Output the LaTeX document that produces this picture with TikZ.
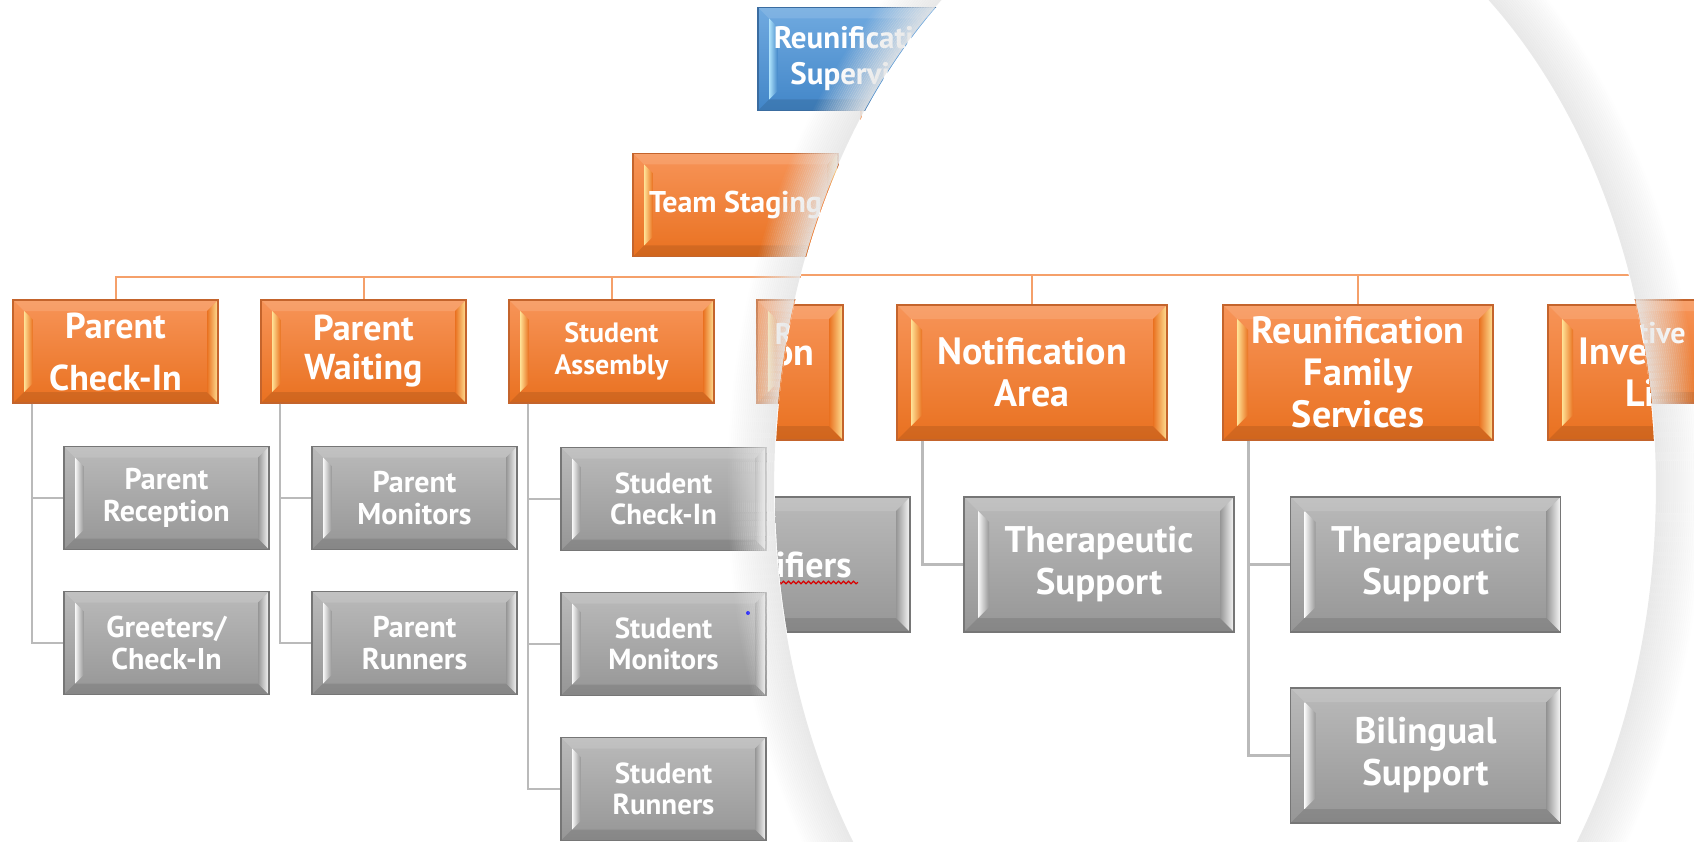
\documentclass[tikz,border=0pt]{standalone}
\usepackage{fontspec}
\setmainfont{PT Sans}
\usetikzlibrary{calc}
\usetikzlibrary{decorations.pathmorphing}

\definecolor{otop}{RGB}{247,148,88}
\definecolor{obot}{RGB}{233,113,32}
\definecolor{oedge}{RGB}{196,100,44}
\definecolor{ohi}{RGB}{255,226,150}
\definecolor{gtop}{RGB}{186,186,186}
\definecolor{gbot}{RGB}{150,150,150}
\definecolor{gedge}{RGB}{118,118,118}
\definecolor{ghi}{RGB}{248,248,248}
\definecolor{btop}{RGB}{112,170,224}
\definecolor{bbot}{RGB}{66,134,200}
\definecolor{bedge}{RGB}{58,108,160}
\definecolor{bhi}{RGB}{175,228,252}
\definecolor{oconn}{RGB}{245,160,106}
\definecolor{gconn}{RGB}{186,186,186}
\definecolor{rim}{RGB}{230,230,230}

\begin{document}
\begin{tikzpicture}[x=1pt,y=-1pt]
		\tikzset{
			fs/.style 2 args={font=\fontsize{#1}{#2}\selectfont\bfseries},
			bevel/.style n args={3}{path picture={
				\coordinate (bNW) at (path picture bounding box.north west);
				\coordinate (bNE) at (path picture bounding box.north east);
				\coordinate (bSW) at (path picture bounding box.south west);
				\coordinate (bSE) at (path picture bounding box.south east);
				\fill[white,opacity=.12] (bNW) -- (bNE) -- ($(bNE)+(-#3,-#3)$) -- ($(bNW)+(#3,-#3)$) -- cycle;
				\fill[black,opacity=.10] (bSW) -- (bSE) -- ($(bSE)+(-#3,#3)$) -- ($(bSW)+(#3,#3)$) -- cycle;
				\shade[left color=#2,right color=#1] (bNE) -- ($(bNE)+(-#3,-#3)$) -- ($(bSE)+(-#3,#3)$) -- (bSE) -- cycle;
				\shade[left color=#1,right color=#2] ($(bNW)+(#3,-#3)$) -- ($(bNW)+(1.8*#3,-1.8*#3)$) -- ($(bSW)+(1.8*#3,1.8*#3)$) -- ($(bSW)+(#3,#3)$) -- cycle;
			}},
			box/.style={rectangle,line width=1.2pt,text=white,align=center,inner sep=0pt},
			small/.style={minimum width=205pt,minimum height=103pt},
			big/.style={minimum width=270pt,minimum height=135pt},
			obox/.style={box,small,draw=oedge,top color=otop,bottom color=obot,bevel={ohi}{obot}{11pt},fs={30pt}{36pt}},
			gbox/.style={box,small,draw=gedge,top color=gtop,bottom color=gbot,bevel={ghi}{gbot}{11pt},fs={30pt}{32pt}},
			bbox/.style={box,small,draw=bedge,top color=btop,bottom color=bbot,bevel={bhi}{bbot}{11pt},fs={31pt}{36pt}},
			mobox/.style={box,big,draw=oedge,top color=otop,bottom color=obot,bevel={ohi}{obot}{14pt},fs={38pt}{42pt}},
			mgbox/.style={box,big,draw=gedge,top color=gtop,bottom color=gbot,bevel={ghi}{gbot}{14pt},fs={37pt}{42pt}},
			oline/.style={draw=oconn,line width=2pt},
			gline/.style={draw=gconn,line width=2pt},
			moline/.style={draw=oconn,line width=2.6pt},
			mgline/.style={draw=gconn,line width=2.6pt},
		}
		\path[fill=white,use as bounding box] (0,0) rectangle (1694,842);

		% chart at normal size
		\coordinate (bus) at (860.5,277);
		\node[bbox] (root) at (860.5,59) {Reunificati\phantom{on}\\Supervi\phantom{sor}};
		\node[obox] (team) at (735.5,205) {Team Staging};
		\node[obox,fs={36pt}{52pt}] (pchk) at (115.5,351.5) {Parent\\Check-In};
		\node[obox,fs={36pt}{39pt}] (pwait) at (363.5,351.5) {Parent\\Waiting};
		\node[obox,fs={28pt}{32pt}] (sasm) at (611.5,351.5) {Student\\Assembly};
		\node[obox] (reun) at (859.5,351.5) {R\phantom{eunification}\\\phantom{A}};
		\node[obox] (invl) at (1603.5,351.5) {\phantom{Investiga}tive\\\phantom{Liaison}};

		\node[gbox] (prec) at (166.5,498) {Parent\\Reception};
		\node[gbox] (greet) at (166.5,643) {Greeters/\\Check-In};
		\node[gbox] (pmon) at (414.5,498) {Parent\\Monitors};
		\node[gbox] (prun) at (414.5,643) {Parent\\Runners};
		\node[gbox,fs={29pt}{31pt}] (schk) at (663.5,499) {Student\\Check-In};
		\node[gbox,fs={29pt}{31pt}] (smon) at (663.5,644) {Student\\Monitors};
		\node[gbox,fs={29pt}{31pt}] (srun) at (663.5,789) {Student\\Runners};

		\draw[oline] (root.south) -- (bus);
		\draw[oline] (team.east) -- (team.east -| bus);
		\foreach \c in {pchk,pwait,sasm,reun,invl}
			\draw[oline] (bus) -| (\c.north);
		\draw[gline] ([xshift=20pt]pchk.south west) |- (prec.west);
		\draw[gline] ([xshift=20pt]pchk.south west) |- (greet.west);
		\draw[gline] ([xshift=20pt]pwait.south west) |- (pmon.west);
		\draw[gline] ([xshift=20pt]pwait.south west) |- (prun.west);
		\draw[gline] ([xshift=20pt]sasm.south west) |- (schk.west);
		\draw[gline] ([xshift=20pt]sasm.south west) |- (smon.west);
		\draw[gline] ([xshift=20pt]sasm.south west) |- (srun.west);
		\fill[blue] (748,613) circle (2pt);

		% magnifier
		\coordinate (lensc) at (1215,487);
		\foreach \d [evaluate=\d as \o using {0.9*(1-\d/48)}] in {2,4,...,46}
			\draw[rim,opacity=\o,line width=2.2pt] (lensc) ellipse [x radius=440pt+\d pt,y radius=620pt+\d pt];
		\fill[white] (lensc) ellipse [x radius=440pt,y radius=620pt];

		\begin{scope}
			\clip (lensc) ellipse [x radius=440pt,y radius=620pt];
			\coordinate (mbus) at (710,275);
			\node[mobox] (mreun) at (708,372.5) {\phantom{Reunificati}on\\\phantom{A}};
			\node[mobox] (mnotif) at (1032,372.5) {Notification\\Area};
			\node[mobox] (mrfs) at (1358,372.5) {Reunification\\Family\\Services};
			\node[mobox] (minvl) at (1683,372.5) {Inves\phantom{tigative}\\Li\phantom{aison}};
			\node[mgbox,fs={36pt}{42pt}] (mrnf) at (775,564.5) {\phantom{Reun}ifiers};
			\node[mgbox] (mther) at (1099,564.5) {Therapeutic\\Support};
			\node[mgbox] (mrther) at (1425.5,564.5) {Therapeutic\\Support};
			\node[mgbox] (mbil) at (1425.5,755.5) {Bilingual\\Support};

			\foreach \c in {mreun,mnotif,mrfs,minvl}
				\draw[moline] (mbus) -| (\c.north);
			\draw[mgline] ([xshift=26pt]mnotif.south west) |- (mther.west);
			\draw[mgline] ([xshift=26pt]mrfs.south west) |- (mrther.west);
			\draw[mgline] ([xshift=26pt]mrfs.south west) |- (mbil.west);
			\draw[red!85!black,line width=1.2pt,decorate,decoration={snake,amplitude=1.3pt,segment length=5pt}]
				($(mrnf.center)+(-83pt,-18pt)$) -- ($(mrnf.center)+(83pt,-18pt)$);
		\end{scope}
	\end{tikzpicture}
\end{document}
